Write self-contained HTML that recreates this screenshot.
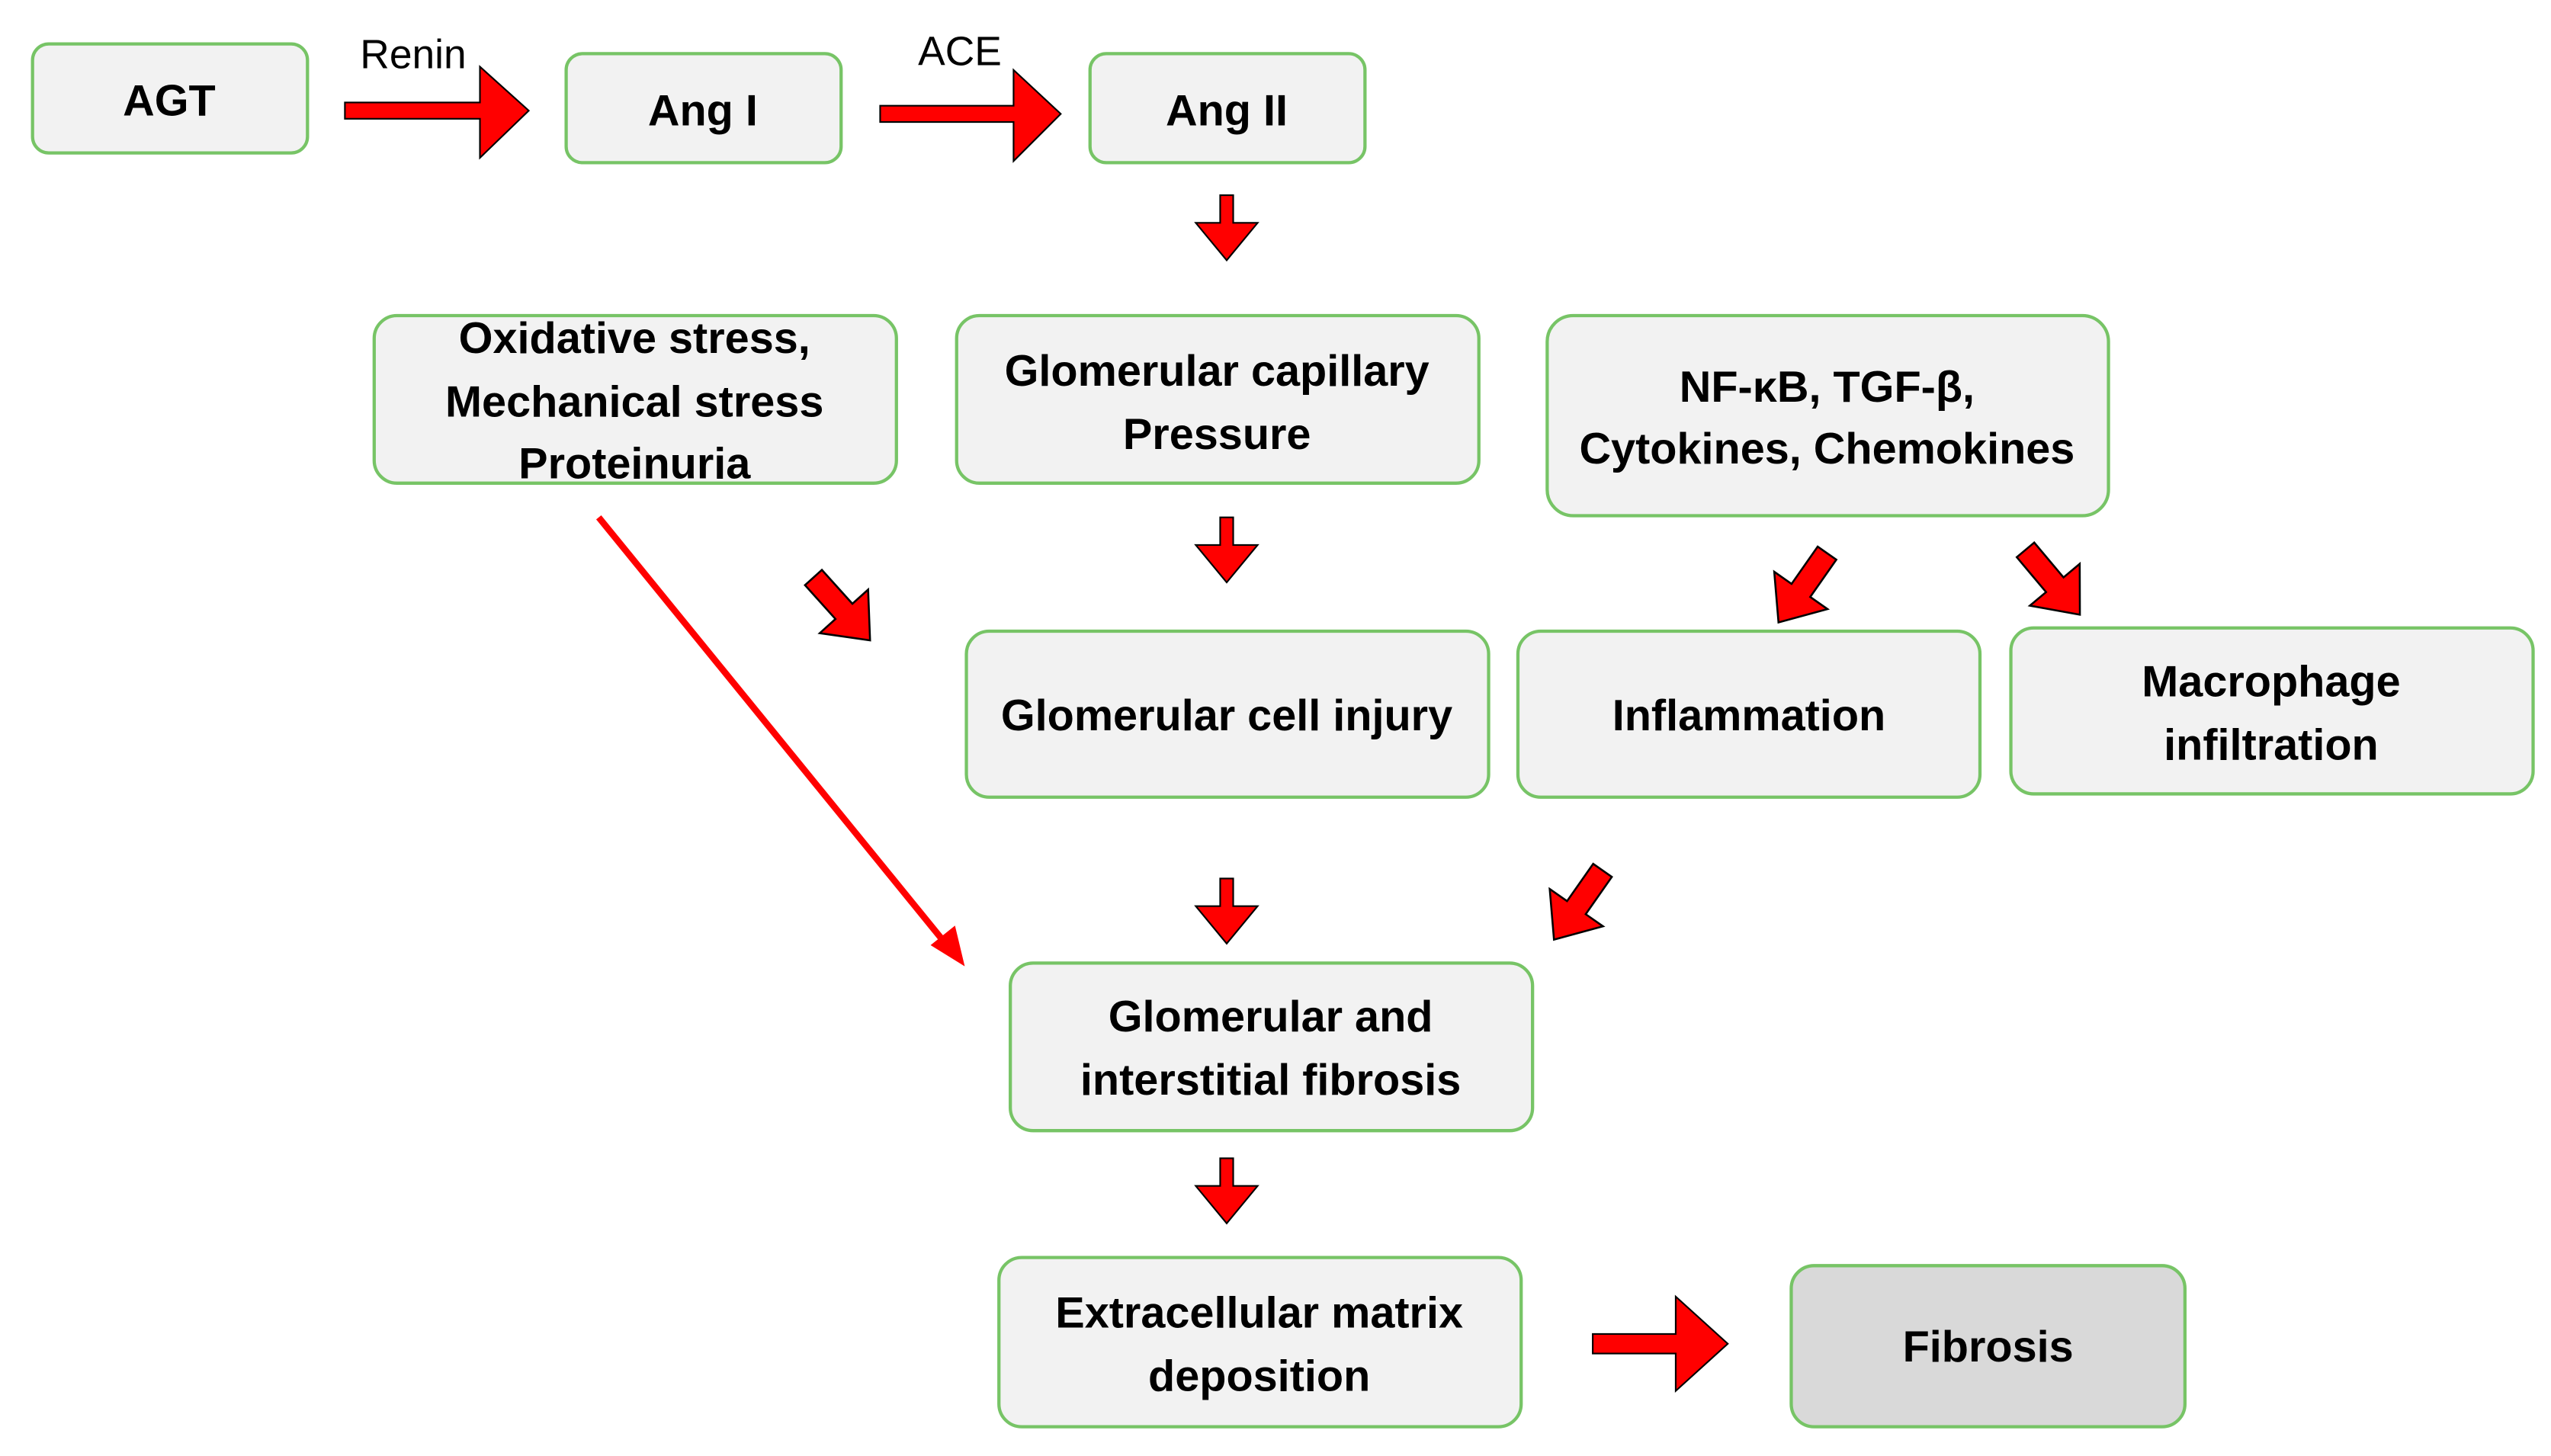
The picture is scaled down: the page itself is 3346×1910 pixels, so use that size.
<!DOCTYPE html>
<html><head><meta charset="utf-8"><style>
html,body{margin:0;padding:0;background:#fff;width:3346px;height:1910px;overflow:hidden}
svg{display:block}
text{font-family:"Liberation Sans",sans-serif;font-weight:bold;fill:#000}
</style></head><body>
<svg width="3346" height="1910" viewBox="0 0 1568 895" preserveAspectRatio="none">
<defs>
<g id="dn"><path d="M-4,0 H4 V17 H19 L0,40 L-19,17 H-4 Z" fill="#ff0000" stroke="#000" stroke-width="1"/></g>
<g id="chunk"><path d="M0,-7 H28 V-20 L52,0 L28,20 V7 H0 Z" fill="#ff0000" stroke="#000" stroke-width="1.2"/></g>
</defs>
<g fill="#f2f2f2" stroke="#77c466" stroke-width="2">
<rect x="20" y="27" width="169" height="67" rx="10"/>
<rect x="348" y="33" width="169" height="67" rx="10"/>
<rect x="670" y="33" width="169" height="67" rx="10"/>
<rect x="230" y="194" width="321" height="103" rx="14"/>
<rect x="588" y="194" width="321" height="103" rx="14"/>
<rect x="951" y="194" width="345" height="123" rx="16"/>
<rect x="594" y="388" width="321" height="102" rx="14"/>
<rect x="933" y="388" width="284" height="102" rx="14"/>
<rect x="1236" y="386" width="321" height="102" rx="14"/>
<rect x="621" y="592" width="321" height="103" rx="14"/>
<rect x="614" y="773" width="321" height="104" rx="14"/>
<rect x="1101" y="778" width="242" height="99" rx="14" fill="#d9d9d9"/>
</g>
<g font-size="27" text-anchor="middle">
<text x="104" y="71">AGT</text>
<text x="432" y="77">Ang I</text>
<text x="754" y="77">Ang II</text>
<text x="390" y="217">Oxidative stress,</text>
<text x="390" y="256">Mechanical stress</text>
<text x="390" y="294">Proteinuria</text>
<text x="748" y="237">Glomerular capillary</text>
<text x="748" y="276">Pressure</text>
<text x="1123" y="247">NF-κB, TGF-β,</text>
<text x="1123" y="285">Cytokines, Chemokines</text>
<text x="754" y="449">Glomerular cell injury</text>
<text x="1075" y="449">Inflammation</text>
<text x="1396" y="428">Macrophage</text>
<text x="1396" y="467">infiltration</text>
<text x="781" y="634">Glomerular and</text>
<text x="781" y="673">interstitial  fibrosis</text>
<text x="774" y="816">Extracellular matrix</text>
<text x="774" y="855">deposition</text>
<text x="1222" y="837">Fibrosis</text>
</g>
<g font-size="25" text-anchor="middle" style="font-weight:normal">
<text x="254" y="42" style="font-weight:normal">Renin</text>
<text x="590" y="40" style="font-weight:normal">ACE</text>
</g>
<g fill="#ff0000" stroke="#000" stroke-width="1">
<path d="M212,63 H295 V41 L325,68 L295,97 V73 H212 Z"/>
<path d="M541,65 H623 V43 L652,70 L623,99 V75 H541 Z"/>
<path d="M979,820 H1030 V797 L1062,826 L1030,855 V832 H979 Z"/>
</g>
<use href="#dn" x="754" y="120"/>
<use href="#dn" x="754" y="318"/>
<use href="#dn" x="754" y="540"/>
<use href="#dn" x="754" y="712"/>
<use href="#chunk" transform="translate(500,355) rotate(48)"/>
<use href="#chunk" transform="translate(1123,340) rotate(125)"/>
<use href="#chunk" transform="translate(1245,338) rotate(50)"/>
<use href="#chunk" transform="translate(985,535) rotate(125)"/>
<line x1="368" y1="318" x2="582" y2="581" stroke="#ff0000" stroke-width="4"/>
<path d="M593,594 L572,581 L587,569 Z" fill="#ff0000"/>
</svg>
</body></html>
